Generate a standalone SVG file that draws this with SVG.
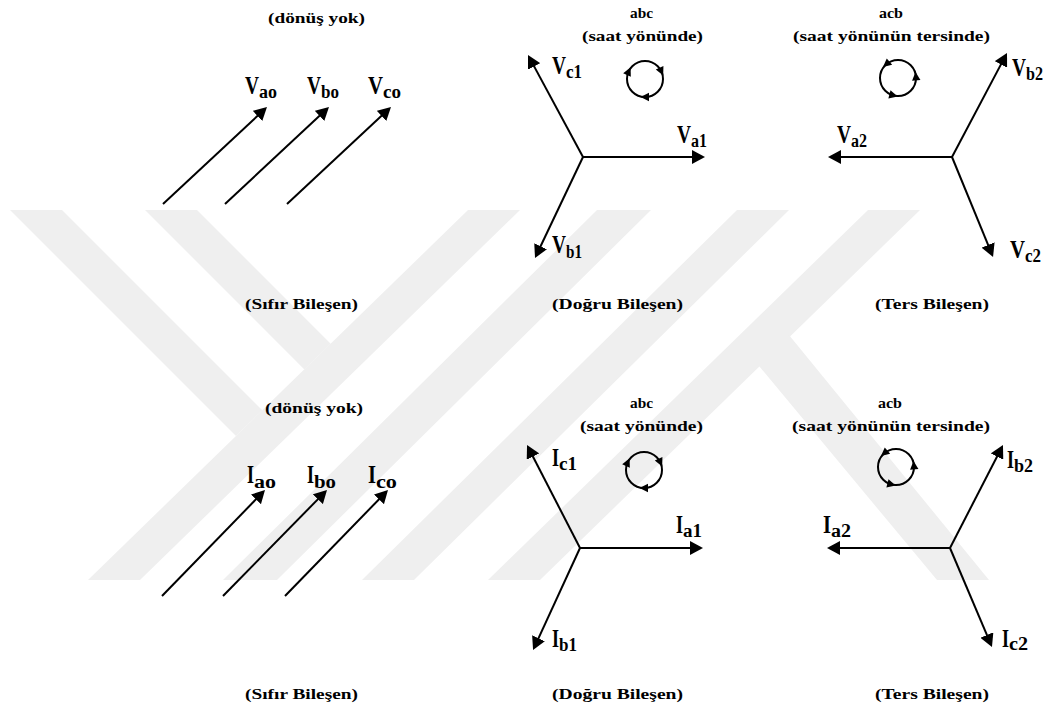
<svg xmlns="http://www.w3.org/2000/svg" width="1052" height="710" viewBox="0 0 1052 710" font-family="'Liberation Serif', 'DejaVu Serif', serif">
<style>
.wm{fill:#efefef}
.cap{font-weight:bold;font-size:15px;fill:#000}
.lab{font-weight:bold;font-size:26px;fill:#000}
.sub{font-weight:bold;font-size:18px;fill:#000}
.vec{stroke:#000;stroke-width:2;fill:none;marker-end:url(#arr)}
.rot{stroke:#000;stroke-width:2;fill:none}
</style>
<defs>
<marker id="arr" markerUnits="userSpaceOnUse" viewBox="0 0 13 14" refX="10" refY="7" markerWidth="13" markerHeight="14" orient="auto"><path d="M0,0 L13,7 L0,14 z" fill="#000"/></marker>
<path id="ah" d="M4.5,0 L-4,-4.2 L-4,4.2 z" fill="#000"/>
</defs>
<rect width="1052" height="710" fill="#fff"/>
<g id="watermark">
<polygon class="wm" points="10,210 62,210 262.3,410.3 236,436"/>
<polygon class="wm" points="145,210 197,210 330.7,343.7 304.4,369.4"/>
<polygon class="wm" points="468,210 520,210 140,580 88,580"/>
<polygon class="wm" points="597,210 651,210 277,580 223,580"/>
<polygon class="wm" points="737,210 789,210 414,580 362,580"/>
<polygon class="wm" points="868,210 920,210 540,580 488,580"/>
<polygon class="wm" points="759,366 789,335 989,580 937,580"/>
</g>
<g id="connectors">
<line class="vec" x1="163" y1="204" x2="264.8" y2="109.05"/>
<line class="vec" x1="225" y1="204" x2="326.8" y2="109.05"/>
<line class="vec" x1="287" y1="204" x2="388.8" y2="109.05"/>
<line class="vec" x1="583" y1="157" x2="702" y2="157"/>
<line class="vec" x1="583" y1="157" x2="529.4" y2="57.6"/>
<line class="vec" x1="583" y1="157" x2="536.3" y2="255.3"/>
<line class="vec" x1="952" y1="157" x2="831" y2="157"/>
<line class="vec" x1="952" y1="157" x2="1005.6" y2="55.65"/>
<line class="vec" x1="952" y1="157" x2="991.9" y2="254.2"/>
<line class="vec" x1="162" y1="596" x2="262.9" y2="492.2"/>
<line class="vec" x1="223" y1="596" x2="324.9" y2="492.1"/>
<line class="vec" x1="285" y1="596" x2="385.9" y2="492.2"/>
<line class="vec" x1="580" y1="548" x2="700" y2="548"/>
<line class="vec" x1="580" y1="548" x2="528.4" y2="447.7"/>
<line class="vec" x1="580" y1="548" x2="534.3" y2="647.3"/>
<line class="vec" x1="950" y1="548" x2="830" y2="548"/>
<line class="vec" x1="950" y1="548" x2="1001.6" y2="447.7"/>
<line class="vec" x1="950" y1="548" x2="990.8" y2="644.2"/>
</g>
<g id="rot-abc-top">
<circle class="rot" cx="645" cy="79" r="18"/>
<use href="#ah" transform="translate(628.7,71.4) rotate(295)"/>
<use href="#ah" transform="translate(661.3,71.4) rotate(65)"/>
<use href="#ah" transform="translate(645,97) rotate(180)"/>
</g>
<g id="rot-acb-top">
<circle class="rot" cx="898" cy="78" r="18"/>
<use href="#ah" transform="translate(886.4,64.2) rotate(140)"/>
<use href="#ah" transform="translate(915.9,76.4) rotate(265)"/>
<use href="#ah" transform="translate(893.3,95.4) rotate(15)"/>
</g>
<g id="rot-abc-bottom">
<circle class="rot" cx="644" cy="470" r="18"/>
<use href="#ah" transform="translate(627.7,462.4) rotate(295)"/>
<use href="#ah" transform="translate(660.3,462.4) rotate(65)"/>
<use href="#ah" transform="translate(644,488) rotate(180)"/>
</g>
<g id="rot-acb-bottom">
<circle class="rot" cx="896" cy="467" r="18"/>
<use href="#ah" transform="translate(884.4,453.2) rotate(140)"/>
<use href="#ah" transform="translate(913.9,465.4) rotate(265)"/>
<use href="#ah" transform="translate(891.3,484.4) rotate(15)"/>
</g>
<g id="captions-top">
<text class="cap" x="268" y="23" textLength="97" lengthAdjust="spacingAndGlyphs">(dönüş yok)</text>
<text class="cap" x="630" y="18" textLength="23" lengthAdjust="spacingAndGlyphs">abc</text>
<text class="cap" x="582" y="41" textLength="121" lengthAdjust="spacingAndGlyphs">(saat yönünde)</text>
<text class="cap" x="879" y="18" textLength="24" lengthAdjust="spacingAndGlyphs">acb</text>
<text class="cap" x="793" y="41" textLength="197" lengthAdjust="spacingAndGlyphs">(saat yönünün tersinde)</text>
<text class="cap" x="245" y="309" textLength="113" lengthAdjust="spacingAndGlyphs">(Sıfır Bileşen)</text>
<text class="cap" x="552" y="309" textLength="131" lengthAdjust="spacingAndGlyphs">(Doğru Bileşen)</text>
<text class="cap" x="875" y="309" textLength="114" lengthAdjust="spacingAndGlyphs">(Ters Bileşen)</text>
</g>
<g id="captions-bottom">
<text class="cap" x="265" y="413" textLength="98" lengthAdjust="spacingAndGlyphs">(dönüş yok)</text>
<text class="cap" x="630" y="408" textLength="23" lengthAdjust="spacingAndGlyphs">abc</text>
<text class="cap" x="580" y="431" textLength="123" lengthAdjust="spacingAndGlyphs">(saat yönünde)</text>
<text class="cap" x="878" y="408" textLength="24" lengthAdjust="spacingAndGlyphs">acb</text>
<text class="cap" x="792" y="431" textLength="198" lengthAdjust="spacingAndGlyphs">(saat yönünün tersinde)</text>
<text class="cap" x="245" y="699" textLength="113" lengthAdjust="spacingAndGlyphs">(Sıfır Bileşen)</text>
<text class="cap" x="552" y="699" textLength="131" lengthAdjust="spacingAndGlyphs">(Doğru Bileşen)</text>
<text class="cap" x="875" y="699" textLength="114" lengthAdjust="spacingAndGlyphs">(Ters Bileşen)</text>
</g>
<g id="Vao"><text class="lab" x="245" y="94" textLength="14" lengthAdjust="spacingAndGlyphs">V</text><text class="sub" x="259" y="98" textLength="18" lengthAdjust="spacingAndGlyphs">ao</text></g>
<g id="Vbo"><text class="lab" x="307" y="94" textLength="14" lengthAdjust="spacingAndGlyphs">V</text><text class="sub" x="321" y="98" textLength="18" lengthAdjust="spacingAndGlyphs">bo</text></g>
<g id="Vco"><text class="lab" x="368" y="94" textLength="15" lengthAdjust="spacingAndGlyphs">V</text><text class="sub" x="383" y="98" textLength="18" lengthAdjust="spacingAndGlyphs">co</text></g>
<g id="Vc1"><text class="lab" x="552" y="74" textLength="14" lengthAdjust="spacingAndGlyphs">V</text><text class="sub" x="566" y="78" textLength="16" lengthAdjust="spacingAndGlyphs">c1</text></g>
<g id="Va1"><text class="lab" x="677" y="143" textLength="14" lengthAdjust="spacingAndGlyphs">V</text><text class="sub" x="691" y="147" textLength="16" lengthAdjust="spacingAndGlyphs">a1</text></g>
<g id="Vb1"><text class="lab" x="552" y="253" textLength="14" lengthAdjust="spacingAndGlyphs">V</text><text class="sub" x="566" y="258" textLength="16" lengthAdjust="spacingAndGlyphs">b1</text></g>
<g id="Vb2"><text class="lab" x="1012" y="76" textLength="14" lengthAdjust="spacingAndGlyphs">V</text><text class="sub" x="1026" y="80" textLength="17" lengthAdjust="spacingAndGlyphs">b2</text></g>
<g id="Va2"><text class="lab" x="837" y="143" textLength="14" lengthAdjust="spacingAndGlyphs">V</text><text class="sub" x="851" y="147" textLength="16" lengthAdjust="spacingAndGlyphs">a2</text></g>
<g id="Vc2"><text class="lab" x="1010" y="258" textLength="15" lengthAdjust="spacingAndGlyphs">V</text><text class="sub" x="1025" y="262" textLength="16" lengthAdjust="spacingAndGlyphs">c2</text></g>
<g id="Iao"><text class="lab" x="247" y="483" textLength="7" lengthAdjust="spacingAndGlyphs">I</text><text class="sub" x="254" y="488" textLength="22" lengthAdjust="spacingAndGlyphs">ao</text></g>
<g id="Ibo"><text class="lab" x="307" y="483" textLength="7" lengthAdjust="spacingAndGlyphs">I</text><text class="sub" x="314" y="488" textLength="22" lengthAdjust="spacingAndGlyphs">bo</text></g>
<g id="Ico"><text class="lab" x="368" y="483" textLength="8" lengthAdjust="spacingAndGlyphs">I</text><text class="sub" x="376" y="488" textLength="21" lengthAdjust="spacingAndGlyphs">co</text></g>
<g id="Ic1"><text class="lab" x="552" y="466" textLength="7" lengthAdjust="spacingAndGlyphs">I</text><text class="sub" x="559" y="470" textLength="18" lengthAdjust="spacingAndGlyphs">c1</text></g>
<g id="Ia1"><text class="lab" x="676" y="533" textLength="7" lengthAdjust="spacingAndGlyphs">I</text><text class="sub" x="683" y="537" textLength="19" lengthAdjust="spacingAndGlyphs">a1</text></g>
<g id="Ib1"><text class="lab" x="552" y="647" textLength="7" lengthAdjust="spacingAndGlyphs">I</text><text class="sub" x="559" y="651" textLength="18" lengthAdjust="spacingAndGlyphs">b1</text></g>
<g id="Ib2"><text class="lab" x="1007" y="468" textLength="7" lengthAdjust="spacingAndGlyphs">I</text><text class="sub" x="1014" y="472" textLength="19" lengthAdjust="spacingAndGlyphs">b2</text></g>
<g id="Ia2"><text class="lab" x="823" y="533" textLength="8" lengthAdjust="spacingAndGlyphs">I</text><text class="sub" x="831" y="537" textLength="20" lengthAdjust="spacingAndGlyphs">a2</text></g>
<g id="Ic2"><text class="lab" x="1002" y="647" textLength="7" lengthAdjust="spacingAndGlyphs">I</text><text class="sub" x="1009" y="650" textLength="19" lengthAdjust="spacingAndGlyphs">c2</text></g>
</svg>
